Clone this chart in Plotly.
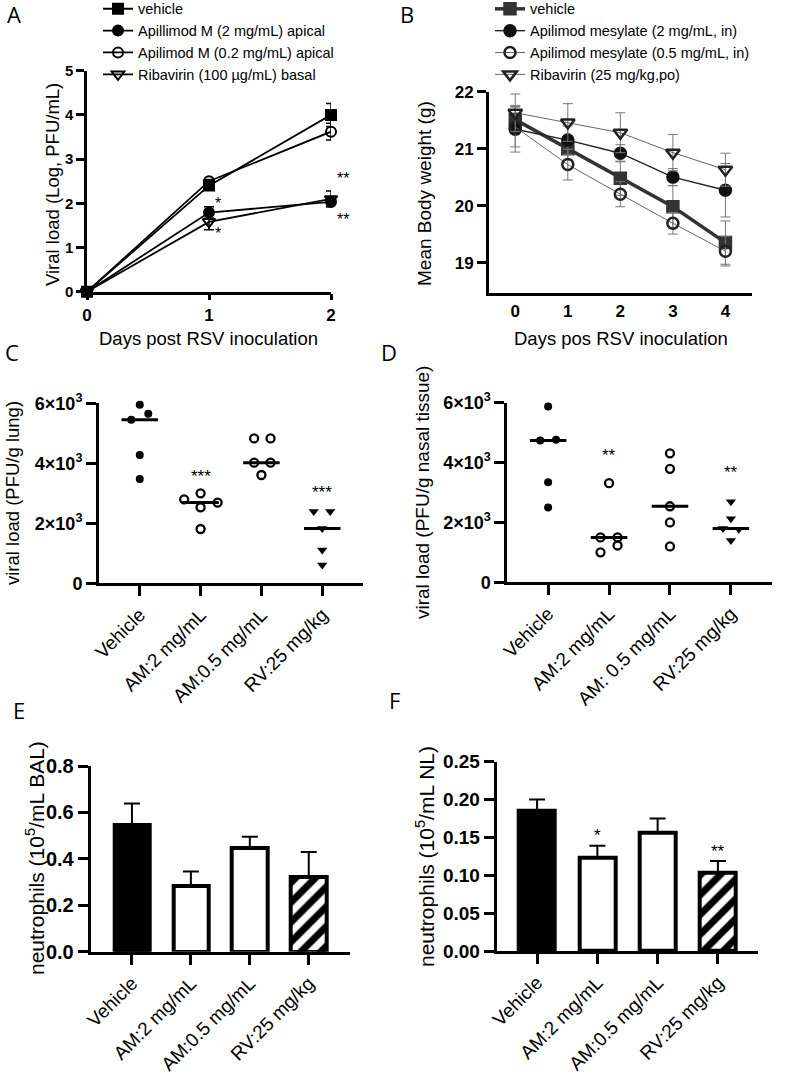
import plotly.graph_objects as go
import numpy as np

W, H = 794, 1074

# ---------------- Panel A data ----------------
A_days = [0, 1, 2]
A_names = ["vehicle", "Apillimod M (2 mg/mL) apical",
           "Apilimod M (0.2 mg/mL) apical", "Ribavirin (100 µg/mL) basal"]
A_vehicle = [0, 2.40, 4.00]
A_vehicle_err = [0, 0.05, 0.26]
A_am2 = [0, 1.79, 2.03]
A_am2_err = [0, 0.13, 0.10]
A_am02 = [0, 2.50, 3.62]
A_am02_err = [0, 0.04, 0.19]
A_rv = [0, 1.58, 2.10]
A_rv_err = [0, 0.18, 0.18]

# ---------------- Panel B data ----------------
B_days = [0, 1, 2, 3, 4]
B_names = ["vehicle", "Apilimod mesylate (2 mg/mL, in)",
           "Apilimod mesylate (0.5 mg/mL, in)", "Ribavirin (25 mg/kg,po)"]
B_vehicle = [21.51, 21.00, 20.48, 19.98, 19.35]
B_vehicle_err = [0.25, 0.20, 0.30, 0.37, 0.38]
B_am2 = [21.34, 21.15, 20.92, 20.50, 20.27]
B_am2_err = [0.40, 0.25, 0.15, 0.15, 0.47]
B_am05 = [21.38, 20.72, 20.20, 19.69, 19.20]
B_am05_err = [0.35, 0.27, 0.22, 0.19, 0.26]
B_rv = [21.63, 21.46, 21.28, 20.93, 20.63]
B_rv_err = [0.33, 0.33, 0.35, 0.32, 0.29]

# ---------------- Panel C data ----------------
C_groups = ["Vehicle", "AM:2 mg/mL", "AM:0.5 mg/mL", "RV:25 mg/kg"]
C_vehicle = [5950, 5650, 5450, 4280, 3480]
C_am2 = [3000, 2800, 2690, 2530, 1810]
C_am05 = [4830, 4830, 4020, 4020, 3610]
C_rv = [2390, 2390, 1830, 1110, 610]
# beeswarm offsets (category units)
C_vehicle_off = [0, 0.14, -0.14, 0, 0]
C_am2_off = [0, -0.27, 0.28, 0, 0]
C_am05_off = [-0.12, 0.15, -0.12, 0.15, 0]
C_rv_off = [-0.14, 0.13, 0, 0, 0]

# ---------------- Panel D data ----------------
D_groups = ["Vehicle", "AM:2 mg/mL", "AM: 0.5 mg/mL", "RV:25 mg/kg"]
D_vehicle = [5870, 4740, 4760, 3340, 2500]
D_am2 = [3310, 1500, 1500, 1000, 1230]
D_am05 = [4310, 3790, 2540, 2000, 1200]
D_rv = [2690, 2120, 1800, 1770, 1400]
D_vehicle_off = [0, -0.13, 0.13, 0, 0]
D_am2_off = [0, -0.14, 0.14, -0.14, 0.14]
D_am05_off = [0, 0, 0, 0, 0]
D_rv_off = [0, 0, -0.13, 0.13, 0]

# ---------------- Panel E / F data ----------------
EF_groups = ["Vehicle", "AM:2 mg/mL", "AM:0.5 mg/mL", "RV:25 mg/kg"]
E_vals = [0.545, 0.285, 0.445, 0.320]
E_err = [0.093, 0.060, 0.050, 0.110]
F_vals = [0.185, 0.123, 0.156, 0.103]
F_err = [0.015, 0.016, 0.019, 0.016]

FONT = "Liberation Sans"
fig = go.Figure()


def px2x(p):
    return p / W


def py2y(p):
    return 1 - p / H


def dom_x(a, b):
    return [px2x(a), px2x(b)]


def dom_y(top, bottom):
    return [py2y(bottom), py2y(top)]


# ---------------- Panel A traces ----------------
A_sets = [
    (A_vehicle, A_vehicle_err, "square", 10),
    (A_am2, A_am2_err, "circle", 10),
    (A_am02, A_am02_err, "circle-open", 10),
    (A_rv, A_rv_err, "triangle-down-open", 11),
]
for (vals, err, sym, size), name in zip(A_sets, A_names):
    fig.add_trace(go.Scatter(
        x=A_days, y=vals, name=name, mode="lines+markers",
        line=dict(color="black", width=1.8),
        marker=dict(symbol=sym, size=size, color="black",
                    line=dict(color="black", width=2)),
        error_y=dict(type="data", array=err, color="black", thickness=1.5, width=5),
        xaxis="x", yaxis="y", legend="legend", cliponaxis=False))

# ---------------- Panel B traces ----------------
B_sets = [
    (B_vehicle, B_vehicle_err, "square", "#333333", 11, 3.5, "#333333"),
    (B_am2, B_am2_err, "circle", "#111111", 11, 1.4, "#222222"),
    (B_am05, B_am05_err, "circle-open", "#222222", 11, 1.0, "#666666"),
    (B_rv, B_rv_err, "triangle-down-open", "#222222", 12, 1.0, "#666666"),
]
for (vals, err, sym, col, size, lw, lcol), name in zip(B_sets, B_names):
    fig.add_trace(go.Scatter(
        x=B_days, y=vals, name=name, mode="lines+markers",
        line=dict(color=lcol, width=lw),
        marker=dict(symbol=sym, size=size, color=col,
                    line=dict(color=col, width=2.5)),
        error_y=dict(type="data", array=err, color="#777777", thickness=1, width=5),
        xaxis="x2", yaxis="y2", legend="legend2", cliponaxis=False))


# ---------------- Panel C / D scatter ----------------
def dot_panel(groups_vals, offsets, xa, ya):
    syms = ["circle", "circle-open", "circle-open", "triangle-down"]
    sizes = [8, 8, 8, 9]
    for i, (vals, off) in enumerate(zip(groups_vals, offsets)):
        fig.add_trace(go.Scatter(
            x=[i + o for o in off], y=vals, mode="markers", showlegend=False,
            marker=dict(symbol=syms[i], size=sizes[i], color="black",
                        line=dict(color="black", width=2.3 if i in (1, 2) else 0)),
            xaxis=xa, yaxis=ya, cliponaxis=False))
        med = float(np.median(vals))
        fig.add_trace(go.Scatter(
            x=[i - 0.3, i + 0.3], y=[med, med], mode="lines", showlegend=False,
            line=dict(color="black", width=3), xaxis=xa, yaxis=ya))


dot_panel([C_vehicle, C_am2, C_am05, C_rv],
          [C_vehicle_off, C_am2_off, C_am05_off, C_rv_off], "x3", "y3")
dot_panel([D_vehicle, D_am2, D_am05, D_rv],
          [D_vehicle_off, D_am2_off, D_am05_off, D_rv_off], "x4", "y4")


# ---------------- Panel E / F bars ----------------
def bar_panel(vals, err, xa, ya):
    fills = ["black", "white", "white", "white"]
    for i in range(len(vals)):
        pattern = dict(shape="/", fgcolor="black", bgcolor="white", size=14,
                       solidity=0.5, fgopacity=1) if i == 3 else dict(shape="")
        fig.add_trace(go.Bar(
            x=[i], y=[vals[i]], width=0.6, showlegend=False,
            marker=dict(color=fills[i], line=dict(color="black", width=4),
                        pattern=pattern),
            error_y=dict(type="data", array=[err[i]], arrayminus=[0],
                         symmetric=False, color="black", thickness=2, width=8),
            xaxis=xa, yaxis=ya))


bar_panel(E_vals, E_err, "x5", "y5")
bar_panel(F_vals, F_err, "x6", "y6")

# ---------------- Axes ----------------
bold = dict(family=FONT, size=14, color="black", weight="bold")
reg_tick = dict(family=FONT, size=19, color="black")


def axis_common(lw=2.5, tl=8):
    return dict(showline=True, linecolor="black", linewidth=lw, ticks="outside",
                ticklen=tl, tickwidth=lw, tickcolor="black", showgrid=False,
                zeroline=False, mirror=False, automargin=False)


layout = dict(width=W, height=H, margin=dict(l=0, r=0, t=0, b=0, autoexpand=False),
              paper_bgcolor="white", plot_bgcolor="rgba(0,0,0,0)", showlegend=True,
              bargap=0, font=dict(family=FONT, color="black"))

# A
layout["xaxis"] = dict(axis_common(2.5, 6), domain=dom_x(87, 331), range=[0, 2],
                       tickvals=[0, 1, 2], tickfont=dict(bold, size=17), anchor="y")
layout["yaxis"] = dict(axis_common(2.5, 8), domain=dom_y(70.7, 291.7), range=[0, 5],
                       tickvals=[0, 1, 2, 3, 4, 5], tickfont=dict(bold, size=15), anchor="x")
# B
layout["xaxis2"] = dict(axis_common(3, 9), domain=dom_x(489, 751.7), range=[-0.5, 4.5],
                        tickvals=B_days, tickfont=dict(bold, size=17), anchor="y2",
                        ticks="")
layout["yaxis2"] = dict(axis_common(3, 9), domain=dom_y(91.7, 293.3), range=[18.46, 22],
                        tickvals=[19, 20, 21, 22], tickfont=dict(bold, size=17), anchor="x2")
# C
ytv = [0, 2000, 4000, 6000]
ytt = ["0", "2×10<sup>3</sup>", "4×10<sup>3</sup>", "6×10<sup>3</sup>"]
layout["xaxis3"] = dict(axis_common(3, 10), domain=dom_x(99, 363), range=[-0.67, 3.67],
                        tickvals=[0, 1, 2, 3], ticktext=C_groups, tickangle=-45,
                        tickfont=reg_tick, anchor="y3")
layout["yaxis3"] = dict(axis_common(3, 10), domain=dom_y(403.3, 583.3), range=[0, 6000],
                        tickvals=ytv, ticktext=ytt, tickfont=dict(bold, size=18), anchor="x3")
# D
layout["xaxis4"] = dict(axis_common(3, 10), domain=dom_x(507.3, 771.7), range=[-0.67, 3.67],
                        tickvals=[0, 1, 2, 3], ticktext=D_groups, tickangle=-45,
                        tickfont=reg_tick, anchor="y4")
layout["yaxis4"] = dict(axis_common(3, 10), domain=dom_y(402.7, 582.3), range=[0, 6000],
                        tickvals=ytv, ticktext=ytt, tickfont=dict(bold, size=18), anchor="x4")
# E
layout["xaxis5"] = dict(axis_common(3, 10), domain=dom_x(90.7, 350), range=[-0.7, 3.7],
                        tickvals=[0, 1, 2, 3], ticktext=EF_groups, tickangle=-45,
                        tickfont=reg_tick, anchor="y5")
layout["yaxis5"] = dict(axis_common(3, 10), domain=dom_y(766, 951.7), range=[0, 0.8],
                        tickvals=[0, 0.2, 0.4, 0.6, 0.8], tickformat=".1f",
                        tickfont=dict(bold, size=20), anchor="x5")
# F
layout["xaxis6"] = dict(axis_common(3, 10), domain=dom_x(496.7, 758.3), range=[-0.67, 3.67],
                        tickvals=[0, 1, 2, 3], ticktext=EF_groups, tickangle=-45,
                        tickfont=reg_tick, anchor="y6")
layout["yaxis6"] = dict(axis_common(3, 10), domain=dom_y(761.7, 951), range=[0, 0.25],
                        tickvals=[0, 0.05, 0.10, 0.15, 0.20, 0.25], tickformat=".2f",
                        tickfont=dict(bold, size=19), anchor="x6")

# Legends
leg_font = dict(family=FONT, size=14.5, color="black")
layout["legend"] = dict(x=px2x(98), y=py2y(-7.2), xanchor="left", yanchor="top",
                        font=leg_font, bgcolor="rgba(0,0,0,0)", itemwidth=30,
                        tracegroupgap=0, itemclick=False)
layout["legend2"] = dict(x=px2x(490), y=py2y(-7.1), xanchor="left", yanchor="top",
                         font=leg_font, bgcolor="rgba(0,0,0,0)", itemwidth=30,
                         tracegroupgap=0, itemclick=False)

fig.update_layout(**layout)

# ---------------- Annotations ----------------
ann = []


def ptext(text, x, y, size=19, angle=0, weight="normal", family=FONT):
    ann.append(dict(text=text, x=px2x(x), y=py2y(y), xref="paper", yref="paper",
                    xanchor="center", yanchor="middle", showarrow=False, textangle=angle,
                    font=dict(family=family, size=size, color="black", weight=weight)))


# panel letters
for letter, x, y in [("A", 14, 14), ("B", 407, 14), ("C", 12, 352),
                     ("D", 389, 352), ("E", 19, 710), ("F", 394, 700)]:
    ptext(letter, x, y, size=22, family="Open Sans")

# axis titles
ptext("Viral load (Log, PFU/mL)", 52, 185, size=18.5, angle=-90)
ptext("Days post RSV inoculation", 208, 338, size=18.5)
ptext("Mean Body weight (g)", 424, 193, size=19, angle=-90)
ptext("Days pos RSV inoculation", 621, 338, size=18.5)
ptext("viral load (PFU/g lung)", 13, 493, size=18.5, angle=-90)
ptext("viral load (PFU/g nasal tissue)", 423, 493, size=19, angle=-90)
ptext("neutrophils (10<sup>5</sup>/mL BAL)", 35, 858, size=21, angle=-90)
ptext("neutrophils (10<sup>5</sup>/mL NL)", 425, 857, size=21, angle=-90)


def star(text, xa, ya, x, y, xs=0, ys=0, size=16):
    ann.append(dict(text=text, x=x, y=y, xref=xa, yref=ya, xshift=xs, yshift=ys,
                    showarrow=False, xanchor="center", yanchor="middle",
                    font=dict(family=FONT, size=size, color="black")))


# panel A significance
star("*", "x", "y", 1, A_am2[1], xs=9, ys=9)
star("*", "x", "y", 1, A_rv[1], xs=9, ys=-12)
star("**", "x", "y", 2, A_rv[2], xs=12, ys=20)
star("**", "x", "y", 2, A_am2[2], xs=12, ys=-18)
# panel C / D
star("***", "x3", "y3", 1, max(C_am2), ys=17, size=17)
star("***", "x3", "y3", 3, max(C_rv), ys=19, size=17)
star("**", "x4", "y4", 1, max(D_am2), ys=28, size=17)
star("**", "x4", "y4", 3, max(D_rv), ys=29, size=17)
# panel F
star("*", "x6", "y6", 1, F_vals[1] + F_err[1], ys=10, size=17)
star("**", "x6", "y6", 3, F_vals[3] + F_err[3], ys=9, size=17)

fig.update_layout(annotations=ann)
# remove the page's default 8px body margin so the figure sits at the window origin
fig.write_html("out.html", config={"displayModeBar": False},
               post_script="document.body.style.margin='0px';document.body.style.padding='0px';")
